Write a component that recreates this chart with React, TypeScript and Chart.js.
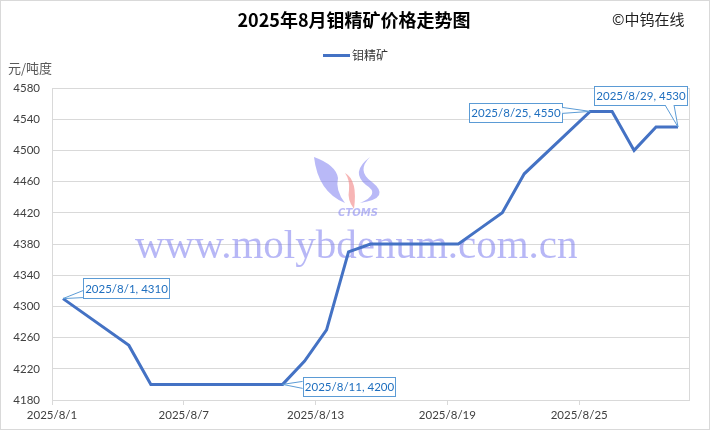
import React, { useEffect, useRef } from "react";
import { Chart, registerables } from "chart.js";

Chart.register(...registerables);

const TITLE = "2025年8月钼精矿价格走势图";
const SOURCE = "©中钨在线";
const SERIES_NAME = "钼精矿";
const Y_UNIT = "元/吨度";
const WATERMARK = "www.molybdenum.com.cn";

// Trading days in August 2025 and molybdenum concentrate prices
const days = [1, 4, 5, 6, 7, 8, 11, 12, 13, 14, 15, 18, 19, 20, 21, 22, 25, 26, 27, 28, 29];
const prices = [4310, 4250, 4200, 4200, 4200, 4200, 4200, 4230, 4270, 4370, 4380, 4380, 4380, 4400, 4420, 4470, 4550, 4550, 4500, 4530, 4530];
const xTickDays = [1, 7, 13, 19, 25];
const yMin = 4180;
const yMax = 4580;
const yStep = 40;
const calloutDays = [1, 11, 25, 29];

const LINE_COLOR = "#4472c4";
const LABEL_COLOR = "#1f6fbf";
const LABEL_BORDER = "#5b9bd5";

// callout geometry relative to the data point: box offset, size, wedge base
type Callout = { dx: number; dy: number; w: number; h: number; base: [number, number, number, number] };
const calloutStyle: Record<number, Callout> = {
  1: { dx: 20, dy: -21, w: 86, h: 20, base: [20, -8, 20, -1] },
  11: { dx: 20, dy: -7, w: 92, h: 19, base: [20, -3, 20, 4] },
  25: { dx: -121, dy: -8, w: 93, h: 19, base: [-28, -4, -28, 2] },
  29: { dx: -84, dy: -41, w: 93, h: 19, base: [-13, -22, -4, -22] },
};

const FONT = "Lato, 'Noto Sans CJK SC', sans-serif";

const decorPlugin = {
  id: "decor",
  beforeDatasetsDraw(chart: any) {
    const ctx = chart.ctx as CanvasRenderingContext2D;
    ctx.save();
    // watermark logo (approximation)
    ctx.globalAlpha = 0.55;
    ctx.fillStyle = "#8080f0";
    ctx.beginPath();
    ctx.moveTo(314, 157);
    ctx.quadraticCurveTo(318, 192, 345, 203);
    ctx.quadraticCurveTo(335, 190, 338, 178);
    ctx.quadraticCurveTo(336, 165, 314, 157);
    ctx.fill();
    ctx.beginPath();
    ctx.moveTo(370, 157);
    ctx.quadraticCurveTo(356, 171, 372, 182);
    ctx.quadraticCurveTo(392, 198, 360, 203);
    ctx.quadraticCurveTo(381, 194, 366, 185);
    ctx.quadraticCurveTo(350, 172, 370, 157);
    ctx.fill();
    ctx.fillStyle = "#f07878";
    ctx.beginPath();
    ctx.moveTo(345, 173);
    ctx.quadraticCurveTo(358, 180, 354, 209);
    ctx.quadraticCurveTo(347, 200, 349, 190);
    ctx.quadraticCurveTo(350, 180, 345, 173);
    ctx.fill();
    ctx.fillStyle = "#8080f0";
    ctx.font = "italic bold 10px 'DejaVu Sans', sans-serif";
    ctx.textAlign = "center";
    ctx.textBaseline = "middle";
    ctx.fillText("CTOMS", 358, 213);
    // watermark text
    ctx.globalAlpha = 0.5;
    ctx.fillStyle = "#7070ee";
    ctx.font = "41px 'Liberation Serif', serif";
    ctx.textAlign = "left";
    ctx.textBaseline = "alphabetic";
    ctx.fillText(WATERMARK, 135, 258);
    ctx.restore();
  },
  afterDraw(chart: any) {
    const ctx = chart.ctx as CanvasRenderingContext2D;
    const { chartArea } = chart;
    const xs = chart.scales.x;
    const ys = chart.scales.y;
    ctx.save();
    // plot area right border
    ctx.strokeStyle = "#d9d9d9";
    ctx.lineWidth = 1;
    ctx.beginPath();
    ctx.moveTo(Math.round(chartArea.right) + 0.5, chartArea.top);
    ctx.lineTo(Math.round(chartArea.right) + 0.5, chartArea.bottom);
    ctx.stroke();
    // outer border
    ctx.strokeStyle = "#d9d9d9";
    ctx.strokeRect(0.5, 0.5, chart.width - 1, chart.height - 1);

    // title
    ctx.fillStyle = "#000";
    ctx.font = "bold 18px 'Noto Sans CJK SC', sans-serif";
    ctx.textAlign = "center";
    ctx.textBaseline = "middle";
    ctx.fillText(TITLE, 354, 20);
    // source
    ctx.font = "15px 'Noto Sans CJK SC', sans-serif";
    ctx.fillStyle = "#222";
    ctx.textAlign = "left";
    ctx.fillText(SOURCE, 612, 19);
    // legend
    ctx.strokeStyle = LINE_COLOR;
    ctx.lineWidth = 3;
    ctx.beginPath();
    ctx.moveTo(323, 55.5);
    ctx.lineTo(350, 55.5);
    ctx.stroke();
    ctx.font = "12px 'Noto Sans CJK SC', sans-serif";
    ctx.fillStyle = "#333";
    ctx.fillText(SERIES_NAME, 352, 55);
    // y unit
    ctx.font = "13px 'Noto Sans CJK SC', sans-serif";
    ctx.fillStyle = "#595959";
    ctx.fillText(Y_UNIT, 8, 68);

    // callouts
    calloutDays.forEach((d) => {
      const i = days.indexOf(d);
      if (i < 0) return;
      const px = xs.getPixelForValue(d);
      const py = ys.getPixelForValue(prices[i]);
      const c = calloutStyle[d];
      const bx = Math.round(px + c.dx) + 0.5;
      const by = Math.round(py + c.dy) + 0.5;
      ctx.fillStyle = "#fff";
      ctx.strokeStyle = LABEL_BORDER;
      ctx.lineWidth = 1;
      ctx.fillRect(bx, by, c.w, c.h);
      ctx.strokeRect(bx, by, c.w, c.h);
      // wedge
      const [ax, ay, bx2, by2] = c.base;
      ctx.beginPath();
      ctx.moveTo(px + ax, py + ay);
      ctx.lineTo(px, py);
      ctx.lineTo(px + bx2, py + by2);
      ctx.closePath();
      ctx.fill();
      ctx.beginPath();
      ctx.moveTo(px + ax, py + ay);
      ctx.lineTo(px, py);
      ctx.lineTo(px + bx2, py + by2);
      ctx.stroke();
      ctx.fillStyle = LABEL_COLOR;
      ctx.font = "11.5px " + FONT;
      ctx.textAlign = "center";
      ctx.textBaseline = "middle";
      ctx.fillText(`2025/8/${d}, ${prices[i]}`, bx + c.w / 2, by + c.h / 2 + 0.5);
    });
    ctx.restore();
  },
};

export default function App() {
  const ref = useRef<HTMLCanvasElement | null>(null);
  useEffect(() => {
    document.body.style.margin = "0";
    if (!ref.current) return;
    const chart = new Chart(ref.current, {
      type: "line",
      data: {
        datasets: [
          {
            label: SERIES_NAME,
            data: days.map((d, i) => ({ x: d, y: prices[i] })),
            borderColor: LINE_COLOR,
            backgroundColor: LINE_COLOR,
            borderWidth: 3,
            pointRadius: 0,
            tension: 0,
          },
        ],
      },
      options: {
        animation: false,
        responsive: false,
        maintainAspectRatio: false,
        layout: { padding: { top: 88, right: 21, left: 0, bottom: 0 } },
        plugins: {
          legend: { display: false },
          title: { display: false },
          tooltip: { enabled: false },
        },
        scales: {
          x: {
            type: "linear",
            min: 0.5,
            max: 29.5,
            afterBuildTicks: (s: any) => {
              s.ticks = xTickDays.map((d) => ({ value: d - 0.5 }));
            },
            afterFit: (s: any) => {
              s.height = 30;
            },
            ticks: {
              autoSkip: false,
              maxRotation: 0,
              padding: 3,
              color: "#404040",
              font: { family: FONT, size: 11.5 },
              callback: (v: any) => `2025/8/${Math.round(Number(v) + 0.5)}`,
            },
            grid: { drawOnChartArea: false, drawTicks: true, tickLength: 5, color: "#d9d9d9" },
            border: { display: true, color: "#d9d9d9" },
          },
          y: {
            min: yMin,
            max: yMax,
            afterFit: (s: any) => {
              s.width = 52;
            },
            ticks: {
              stepSize: yStep,
              padding: 12,
              color: "#404040",
              font: { family: FONT, size: 11.5 },
              callback: (v: any) => String(v),
            },
            grid: { color: "#d9d9d9", drawTicks: false },
            border: { display: true, color: "#d9d9d9" },
          },
        },
      },
      plugins: [decorPlugin],
    });
    return () => chart.destroy();
  }, []);
  return (
    <div style={{ width: 710, height: 430 }}>
      <canvas ref={ref} width={710} height={430} style={{ display: "block" }} />
    </div>
  );
}
